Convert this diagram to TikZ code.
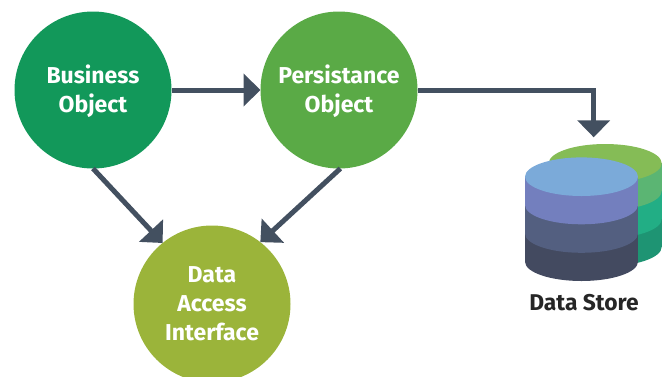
\documentclass[tikz,border=0pt]{standalone}
\usepackage{fontspec}
\setmainfont{Fira Sans}[BoldFont={Fira Sans Bold}]
\usetikzlibrary{arrows.meta}
\definecolor{arrowc}{HTML}{435060}
\definecolor{backa}{HTML}{85BC56}
\definecolor{backb}{HTML}{5BB573}
\definecolor{backc}{HTML}{22AE85}
\definecolor{backd}{HTML}{1E9473}
\definecolor{fronta}{HTML}{7BAAD9}
\definecolor{frontb}{HTML}{737FBE}
\definecolor{frontc}{HTML}{535F80}
\definecolor{frontd}{HTML}{434A60}
\definecolor{bizc}{HTML}{12985A}
\definecolor{perc}{HTML}{5AAA46}
\definecolor{daic}{HTML}{9BB43A}
\tikzset{
  bubble/.style={circle,minimum size=157pt,inner sep=0pt,outer sep=0pt,text=white,align=center,
    font=\fontsize{23}{29}\selectfont\bfseries},
  link/.style={draw=arrowc,line width=5pt,-{Triangle[length=17pt,width=32pt]}},
  caption/.style={text=black!85,font=\fontsize{22.8}{25}\selectfont\bfseries,inner sep=0pt}
}
\newcommand{\layer}[6]{% cx rx ry top bottom colour
  \fill[#6] (#1-#2,#4) rectangle (#1+#2,#5);
  \fill[#6] (#1,#5) ellipse [x radius=#2,y radius=#3];
}
\newcommand{\lift}{\rule{0pt}{21pt}}
\begin{document}
\begin{tikzpicture}[x=1pt,y=-1pt]
\useasboundingbox (0,0) rectangle (671,376);
% back cylinder
\layer{605.2}{56.5}{19.3}{219}{247}{backd}
\layer{605.2}{56.5}{19.3}{191}{219}{backc}
\layer{605.2}{56.5}{19.3}{163.3}{191}{backb}
\fill[backa] (605.2,163.3) ellipse [x radius=56.5,y radius=19.3];
% front cylinder
\layer{581.5}{56.5}{19.3}{233.5}{261.7}{frontd}
\layer{581.5}{56.5}{19.3}{205}{233.5}{frontc}
\layer{581.5}{56.5}{19.3}{176.7}{205}{frontb}
\fill[fronta] (581.5,176.7) ellipse [x radius=56.5,y radius=19.3];
% nodes
\node[bubble,fill=bizc] (biz) at (93,90) {\lift Business\\Object};
\node[bubble,fill=perc] (per) at (339,90) {\lift Persistance\\Object};
\node[bubble,fill=daic] (dai) at (212,304) {Data\\Access\\Interface};
\node[caption] (store) at (584,303) {Data Store};
\coordinate (dst) at (593.7,137.3);
% connectors
\draw[link] (biz.east) -- (per.west);
\draw[link] (per.east) -| (dst);
\draw[link] (biz.270) -- (dai.129);
\draw[link] (per.271) -- (dai.52);
\end{tikzpicture}
\end{document}
